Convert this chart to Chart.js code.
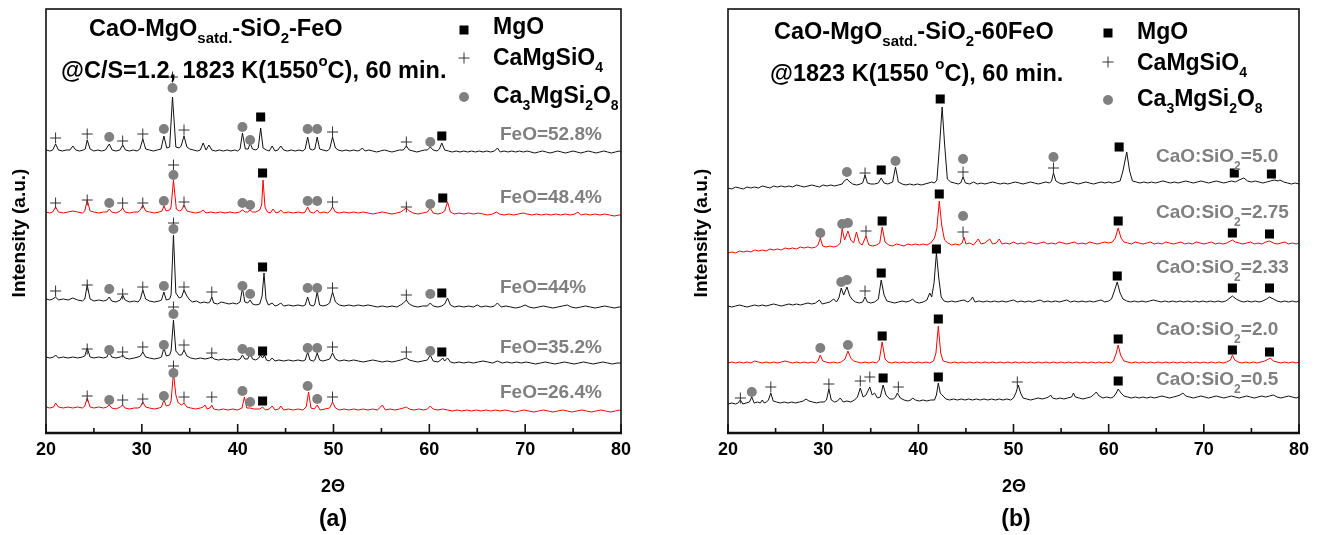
<!DOCTYPE html>
<html>
<head>
<meta charset="utf-8">
<script src="https://cdn.jsdelivr.net/npm/chart.js@4.4.0/dist/chart.umd.min.js"></script>
<style>
  html, body { margin: 0; padding: 0; background: #fff; }
  #wrap { position: relative; width: 1318px; height: 535px; }
  .pane { position: absolute; top: 0; }
</style>
</head>
<body>
<div id="wrap">
  <canvas id="chartA" class="pane" style="left:0" width="659" height="535"></canvas>
  <canvas id="chartB" class="pane" style="left:659px" width="659" height="535"></canvas>
</div>
<script>
// x ticks (2 theta) and minor ticks
const xTicks = [20, 30, 40, 50, 60, 70, 80];
const xMinor = [25, 35, 45, 55, 65, 75];

// panel (a): traces as flat [2theta, intensity, ...] lists, offset stacked
const labelsA = ['FeO=52.8%', 'FeO=48.4%', 'FeO=44%', 'FeO=35.2%', 'FeO=26.4%'];
const feo528 = [20,283, 20.4,282, 20.7,283, 21.0,289, 21.3,283, 21.7,282, 22.1,283, 22.5,283, 22.8,287, 23.1,283, 23.5,282, 23.9,283, 24.1,284, 24.3,293, 24.6,284, 25.0,282, 25.4,283, 25.8,282, 26.2,283, 26.6,289, 26.9,283, 27.3,282, 27.7,283, 28.0,288, 28.3,283, 28.7,282, 29.1,283, 29.5,282, 29.8,284, 30.1,294, 30.4,284, 30.8,283, 31.2,282, 31.6,283, 32.0,284, 32.3,297, 32.6,285, 32.9,286, 33.2,336, 33.55,286, 33.9,285, 34.1,287, 34.4,297, 34.7,286, 35.0,284, 35.4,283, 35.8,282, 36.1,283, 36.4,290, 36.7,283, 37.0,288, 37.3,283, 37.7,282, 38.1,283, 38.5,282, 38.9,283, 39.3,282, 39.7,283, 40.0,282, 40.25,284, 40.5,300, 40.8,284, 41.1,284, 41.3,290, 41.55,284, 41.9,283, 42.15,285, 42.4,305, 42.65,285, 43.0,283, 43.3,282, 43.6,287, 43.9,282, 44.2,283, 44.5,287, 44.8,283, 45.2,282, 45.6,283, 46.0,282, 46.4,283, 46.8,282, 47.05,284, 47.3,296, 47.55,284, 47.8,283, 48.05,284, 48.3,296, 48.55,284, 48.9,283, 49.3,282, 49.6,284, 49.9,296, 50.2,285, 50.5,283, 50.9,282, 51.3,283, 51.7,282, 52.1,283, 52.5,282, 52.8,283, 53.0,285, 53.3,282, 53.7,283, 54.1,282, 54.5,281, 54.9,282, 55.3,283, 55.7,282, 56.1,281, 56.5,282, 56.9,283, 57.3,283, 57.6,287, 57.9,283, 58.3,282, 58.7,281, 59.1,282, 59.5,283, 59.8,283, 60.1,286, 60.4,283, 60.8,282, 61.05,284, 61.3,290, 61.6,283, 62.0,282, 62.4,281, 62.8,282, 63.2,281, 63.6,282, 64.0,281, 64.4,282, 64.8,281, 65.2,282, 65.6,281, 66.0,282, 66.4,281, 66.8,282, 67.1,285, 67.4,281, 67.8,282, 68.2,281, 68.6,282, 69.0,281, 69.4,282, 69.8,281, 70.2,282, 70.6,281, 71.0,280, 71.4,281, 71.8,282, 72.2,281, 72.6,280, 73.0,281, 73.4,282, 73.8,281, 74.2,280, 74.6,281, 75.0,282, 75.4,281, 75.8,280, 76.2,281, 76.6,282, 77.0,281, 77.4,280, 77.8,281, 78.2,282, 78.6,281, 79.0,280, 79.4,281, 79.8,282, 80,281];
const feo484 = [20,221, 20.4,220, 20.7,221, 21.0,226, 21.3,221, 21.8,220, 22.3,221, 22.8,222, 23.3,221, 23.8,220, 24.05,222, 24.3,233, 24.6,222, 25.0,221, 25.5,220, 26.0,221, 26.35,221, 26.6,224, 26.85,221, 27.3,220, 27.75,222, 28.0,225, 28.25,221, 28.7,220, 29.2,221, 29.6,221, 29.85,223, 30.1,228, 30.4,222, 30.8,221, 31.3,220, 31.8,221, 32.1,222, 32.3,227, 32.55,222, 32.9,223, 33.05,226, 33.3,253, 33.6,224, 33.9,222, 34.15,223, 34.4,228, 34.7,222, 35.1,221, 35.6,220, 36.1,221, 36.4,223, 36.7,220, 37.2,221, 37.7,220, 38.2,221, 38.7,220, 39.2,221, 39.7,220, 40.2,221, 40.5,223, 40.8,221, 41.05,221, 41.3,223, 41.55,221, 41.9,221, 42.3,223, 42.5,228, 42.65,253, 42.85,226, 43.1,221, 43.4,220, 43.7,224, 44.0,220, 44.3,221, 44.5,223, 44.8,220, 45.3,221, 45.8,220, 46.3,221, 46.8,220, 47.05,221, 47.3,226, 47.55,221, 47.9,220, 48.1,221, 48.3,223, 48.55,220, 49.0,221, 49.4,220, 49.65,222, 49.9,226, 50.2,221, 50.6,220, 51.1,221, 51.6,220, 52.1,221, 52.6,220, 53.1,221, 53.6,220, 54.1,219, 54.6,220, 55.1,221, 55.6,220, 56.1,219, 56.6,220, 57.0,221, 57.3,223, 57.6,225, 57.9,222, 58.3,220, 58.8,219, 59.3,220, 59.8,221, 60.1,225, 60.4,220, 60.9,219, 61.3,220, 61.6,222, 61.9,231, 62.2,221, 62.6,219, 63.1,220, 63.6,219, 64.1,220, 64.6,219, 65.1,220, 65.6,219, 66.1,218, 66.6,219, 67.0,221, 67.3,219, 67.8,218, 68.3,219, 68.8,218, 69.3,219, 69.8,220, 70.2,219, 70.7,218, 71.2,219, 71.7,218, 72.2,219, 72.7,218, 73.2,219, 73.7,218, 74.2,219, 74.7,218, 75.2,219, 75.5,221, 75.8,218, 76.3,219, 76.8,218, 77.3,219, 77.8,218, 78.3,219, 78.8,218, 79.3,217, 79.8,218, 80,218];
const feo44 = [20,134, 20.4,133, 20.7,134, 21.0,136, 21.3,133, 21.8,134, 22.3,133, 22.8,135, 23.3,133, 23.8,132, 24.05,134, 24.3,148, 24.6,134, 25.0,132, 25.5,133, 26.0,132, 26.35,133, 26.6,136, 26.85,132, 27.3,131, 27.75,133, 28.0,138, 28.25,133, 28.7,131, 29.2,132, 29.6,131, 29.85,134, 30.1,143, 30.4,134, 30.8,132, 31.3,131, 31.8,132, 32.05,133, 32.3,141, 32.55,133, 32.9,134, 33.05,138, 33.3,198, 33.55,140, 33.9,135, 34.15,136, 34.4,143, 34.7,137, 35.0,133, 35.3,131, 35.7,132, 36.1,130, 36.5,131, 36.9,130, 37.1,131, 37.3,136, 37.5,130, 37.9,129, 38.3,131, 38.7,130, 39.1,129, 39.5,130, 39.9,129, 40.25,131, 40.5,145, 40.75,131, 41.05,130, 41.3,133, 41.55,129, 41.9,128, 42.3,129, 42.55,137, 42.75,160, 42.95,134, 43.2,128, 43.6,130, 43.9,127, 44.2,128, 44.5,130, 44.8,127, 45.3,128, 45.8,127, 46.3,128, 46.8,127, 47.05,128, 47.3,136, 47.55,128, 47.9,127, 48.05,129, 48.3,141, 48.55,128, 48.9,127, 49.3,128, 49.6,130, 49.9,141, 50.2,131, 50.6,128, 51.1,127, 51.6,128, 52.1,127, 52.6,128, 53.1,127, 53.6,128, 54.1,127, 54.6,126, 55.1,127, 55.6,126, 56.1,127, 56.6,126, 57.0,128, 57.3,130, 57.6,133, 57.9,129, 58.3,127, 58.8,126, 59.3,127, 59.8,127, 60.1,130, 60.4,127, 60.9,126, 61.3,127, 61.6,129, 61.9,135, 62.2,128, 62.6,126, 63.1,127, 63.6,126, 64.1,127, 64.6,126, 65.0,128, 65.4,126, 65.9,127, 66.4,126, 66.8,127, 67.1,130, 67.5,126, 68.0,127, 68.5,126, 69.0,125, 69.5,126, 70.0,128, 70.4,126, 70.9,125, 71.4,126, 71.9,127, 72.4,126, 72.9,125, 73.4,126, 73.9,127, 74.4,128, 74.8,126, 75.3,125, 75.8,126, 76.3,127, 76.8,126, 77.3,125, 77.8,126, 78.3,127, 78.8,126, 79.3,125, 79.8,126, 80,126];
const feo352 = [20,76, 20.4,75, 20.8,76, 21.0,78, 21.3,75, 21.8,76, 22.3,75, 22.8,76, 23.3,75, 23.8,76, 24.05,77, 24.3,85, 24.6,76, 25.0,75, 25.5,76, 26.0,75, 26.35,76, 26.6,81, 26.85,76, 27.3,75, 27.75,76, 28.0,78, 28.25,75, 28.7,74, 29.2,75, 29.6,76, 29.85,77, 30.1,81, 30.4,76, 30.8,75, 31.3,74, 31.8,75, 32.05,76, 32.3,85, 32.55,77, 32.9,78, 33.05,82, 33.3,113, 33.55,82, 33.9,78, 34.15,78, 34.4,83, 34.7,77, 35.1,75, 35.6,74, 36.1,75, 36.6,74, 37.05,75, 37.3,76, 37.55,74, 38.0,73, 38.5,74, 39.0,73, 39.5,74, 40.0,73, 40.25,74, 40.5,78, 40.75,74, 41.05,74, 41.3,80, 41.55,74, 41.9,73, 42.2,75, 42.4,78, 42.6,75, 42.8,78, 43.0,73, 43.3,72, 43.6,75, 43.9,72, 44.3,73, 44.8,72, 45.3,73, 45.8,72, 46.3,73, 46.8,72, 47.05,73, 47.3,81, 47.55,73, 47.9,72, 48.05,73, 48.3,80, 48.55,73, 48.9,72, 49.3,73, 49.6,74, 49.9,80, 50.2,74, 50.6,72, 51.1,73, 51.6,72, 52.1,73, 52.6,72, 53.1,71, 53.6,72, 54.1,73, 54.6,72, 55.1,71, 55.6,72, 56.1,71, 56.6,72, 57.0,73, 57.3,74, 57.6,75, 57.9,73, 58.3,72, 58.8,71, 59.3,72, 59.8,73, 60.1,78, 60.4,72, 60.9,71, 61.2,73, 61.4,75, 61.6,72, 61.9,75, 62.2,71, 62.6,70, 63.1,71, 63.6,70, 64.1,71, 64.6,70, 65.1,71, 65.6,72, 66.1,71, 66.6,70, 67.1,72, 67.6,70, 68.1,71, 68.6,70, 69.1,71, 69.6,70, 70.1,71, 70.6,70, 71.1,69, 71.6,70, 72.1,71, 72.6,70, 73.1,69, 73.6,70, 74.1,71, 74.6,70, 75.1,69, 75.6,70, 76.1,71, 76.6,70, 77.1,69, 77.6,70, 78.1,71, 78.6,70, 79.1,69, 79.6,70, 80,70];
const feo264 = [20,26, 20.4,25, 20.8,26, 21.0,30, 21.3,26, 21.8,25, 22.3,26, 22.8,25, 23.3,26, 23.8,25, 24.05,27, 24.3,35, 24.6,26, 25.0,25, 25.5,26, 26.0,25, 26.35,26, 26.6,28, 26.85,25, 27.3,24, 27.75,26, 28.0,28, 28.25,25, 28.7,24, 29.2,25, 29.6,25, 29.85,26, 30.1,31, 30.4,26, 30.8,25, 31.3,24, 31.8,25, 32.05,26, 32.3,33, 32.55,27, 32.9,28, 33.05,32, 33.3,60, 33.55,38, 33.8,30, 34.15,28, 34.4,30, 34.7,26, 35.1,25, 35.6,24, 36.1,25, 36.4,26, 36.6,28, 36.8,24, 37.1,25, 37.3,28, 37.5,24, 38.0,23, 38.5,24, 39.0,23, 39.5,24, 40.0,23, 40.45,25, 40.7,36, 40.95,25, 41.3,25, 41.7,24, 42.3,24, 42.6,26, 42.9,23, 43.3,24, 43.6,27, 43.9,23, 44.3,24, 44.5,27, 44.8,23, 45.3,24, 45.8,23, 46.3,24, 46.8,23, 47.15,26, 47.4,41, 47.65,25, 48.0,24, 48.3,28, 48.6,23, 49.1,24, 49.6,25, 49.9,31, 50.2,25, 50.6,23, 51.1,24, 51.6,23, 52.1,24, 52.6,23, 53.1,24, 53.6,23, 54.1,24, 54.6,23, 55.1,28, 55.4,23, 55.9,24, 56.4,23, 56.9,24, 57.3,25, 57.6,26, 57.9,24, 58.4,23, 58.9,24, 59.4,23, 59.8,24, 60.1,27, 60.4,24, 60.9,23, 61.4,24, 61.9,23, 62.4,22, 62.9,23, 63.4,22, 63.9,23, 64.4,22, 64.9,23, 65.4,22, 65.9,23, 66.4,22, 66.9,23, 67.4,22, 67.9,23, 68.4,22, 68.9,21, 69.4,22, 69.9,23, 70.4,22, 70.9,21, 71.4,22, 71.9,23, 72.4,22, 72.9,21, 73.4,22, 73.9,23, 74.4,22, 74.9,21, 75.4,22, 75.9,23, 76.4,22, 76.9,21, 77.4,22, 77.9,23, 78.4,22, 78.9,21, 79.4,22, 79.9,23, 80,22];

// panel (a) phase markers [2theta, y]
const mgoA = [42.4,316, 61.3,297, 42.6,260, 61.4,235, 42.6,166, 61.3,140, 42.6,82, 61.3,81, 42.6,32];
const cmsA = [21,295, 24.3,299, 28,292, 30.1,299, 33.2,356, 34.4,303, 49.9,301, 57.6,291,
  21,230, 24.3,233, 28,230, 30.1,230, 33.3,268, 34.4,231, 49.9,231, 57.6,226,
  21,142, 24.3,148, 28,139, 30.1,146, 33.3,210, 34.4,146, 37.3,141, 49.9,145, 57.6,138,
  24.3,84, 28,81, 30.1,86, 33.3,126, 34.4,88, 37.3,80, 49.9,86, 57.6,81,
  24.3,37, 28,33, 30.1,34, 33.3,67, 34.4,36, 37.3,36, 49.9,36];
const c3msA = [26.6,296, 32.3,304, 33.2,345, 40.5,306, 41.3,293, 47.3,304, 48.3,304, 60.1,291,
  26.6,230, 32.3,232, 33.3,258, 40.5,230, 41.3,228, 47.3,232, 48.3,232, 60.1,229,
  26.6,144, 32.3,147, 33.3,204, 40.5,147, 41.3,139, 47.3,145, 48.3,145, 60.1,139,
  26.6,83, 32.3,88, 33.3,119, 40.5,84, 41.3,81, 47.3,85, 48.3,85, 60.1,82,
  26.6,33, 32.3,37, 33.3,60, 40.5,42, 41.3,31, 47.3,47, 48.3,34];

// panel (b): CaO:SiO2 ratio traces
const labelsB = ['5.0', '2.75', '2.33', '2.0', '0.5'];
const cs50 = [20,245, 20.4,244, 20.8,246, 21.2,245, 21.6,244, 22.0,246, 22.4,245, 22.8,246, 23.2,245, 23.6,247, 24.0,246, 24.4,245, 24.8,247, 25.2,246, 25.6,247, 26.0,246, 26.4,247, 26.8,246, 27.2,248, 27.6,247, 28.0,246, 28.4,247, 28.8,248, 29.2,247, 29.6,246, 30.0,248, 30.4,247, 30.8,248, 31.2,247, 31.6,248, 32.0,249, 32.2,252, 32.5,254, 32.8,251, 33.1,249, 33.5,248, 33.9,249, 34.15,250, 34.4,258, 34.65,250, 35.0,249, 35.4,249, 35.8,250, 36.1,255, 36.4,250, 36.8,249, 37.3,251, 37.6,266, 37.9,251, 38.3,249, 38.7,248, 39.1,249, 39.5,248, 39.9,249, 40.3,248, 40.7,249, 41.1,250, 41.4,251, 41.7,250, 41.95,253, 42.25,290, 42.5,326, 42.75,290, 43.05,254, 43.4,251, 43.8,250, 44.2,249, 44.45,250, 44.7,256, 44.95,250, 45.4,249, 45.8,251, 46.2,249, 46.6,250, 47.0,249, 47.4,250, 47.8,251, 48.2,250, 48.6,249, 49.0,250, 49.4,249, 49.8,250, 50.2,251, 50.6,250, 51.0,249, 51.4,250, 51.8,251, 52.2,250, 52.6,249, 53.0,250, 53.4,251, 53.8,250, 54.0,252, 54.2,260, 54.45,252, 54.8,250, 55.2,249, 55.6,250, 56.0,251, 56.4,250, 56.8,249, 57.2,250, 57.6,251, 58.0,250, 58.4,249, 58.8,250, 59.2,251, 59.6,250, 60.0,251, 60.4,250, 60.8,251, 61.2,252, 61.5,262, 61.9,281, 62.2,262, 62.5,252, 62.9,251, 63.3,250, 63.7,251, 64.1,250, 64.5,251, 64.9,250, 65.3,251, 65.7,252, 66.1,251, 66.5,250, 66.9,251, 67.3,250, 67.7,251, 68.1,252, 68.5,251, 68.9,250, 69.3,251, 69.7,252, 70.1,251, 70.5,250, 70.9,251, 71.3,252, 71.7,251, 72.1,250, 72.5,251, 72.9,252, 73.3,251, 73.7,253, 74.2,255, 74.6,252, 75.0,251, 75.4,252, 75.8,251, 76.2,250, 76.6,251, 77.0,252, 77.4,253, 77.8,252, 78.0,253, 78.4,251, 78.8,250, 79.2,249, 79.6,250, 80,249];
const cs275 = [20,180, 20.4,181, 20.8,180, 21.2,182, 21.6,181, 22.0,182, 22.4,181, 22.8,183, 23.2,182, 23.6,183, 24.0,182, 24.4,184, 24.8,183, 25.2,184, 25.6,183, 26.0,185, 26.4,184, 26.8,185, 27.2,184, 27.6,186, 28.0,185, 28.4,186, 28.8,185, 29.2,186, 29.45,188, 29.7,195, 29.95,187, 30.3,186, 30.7,187, 31.1,186, 31.5,187, 31.8,190, 32.0,204, 32.25,193, 32.6,202, 32.9,193, 33.2,190, 33.5,201, 33.8,190, 34.1,188, 34.5,197, 34.8,188, 35.2,187, 35.6,188, 35.95,190, 36.2,206, 36.5,191, 36.9,188, 37.3,187, 37.7,189, 38.1,188, 38.5,187, 38.9,189, 39.3,188, 39.7,189, 40.1,188, 40.5,189, 40.9,188, 41.3,190, 41.7,195, 41.95,205, 42.2,232, 42.45,208, 42.75,193, 43.1,190, 43.5,188, 43.9,189, 44.3,188, 44.6,190, 44.8,196, 45.0,189, 45.4,190, 45.8,188, 46.3,194, 46.6,189, 47.0,190, 47.5,194, 47.8,189, 48.2,190, 48.5,194, 48.8,189, 49.2,190, 49.6,189, 50.0,191, 50.4,189, 50.8,190, 51.2,189, 51.6,191, 52.0,190, 52.4,189, 52.8,190, 53.2,191, 53.6,189, 54.0,190, 54.4,189, 54.8,191, 55.2,190, 55.6,189, 56.0,190, 56.4,191, 56.8,189, 57.2,190, 57.6,189, 58.0,191, 58.4,190, 58.8,189, 59.2,190, 59.6,191, 60.0,190, 60.4,191, 60.7,195, 61.0,205, 61.3,195, 61.6,191, 62.0,190, 62.4,189, 62.8,191, 63.2,190, 63.6,189, 64.0,190, 64.4,191, 64.8,189, 65.2,190, 65.6,189, 66.0,191, 66.4,190, 66.8,189, 67.2,190, 67.6,191, 68.0,189, 68.4,190, 68.8,189, 69.2,191, 69.6,190, 70.0,189, 70.4,190, 70.8,191, 71.2,189, 71.6,190, 72.0,189, 72.4,190, 72.8,192, 73.0,193, 73.3,191, 73.7,190, 74.1,189, 74.5,190, 74.9,191, 75.3,189, 75.7,190, 76.1,189, 76.5,191, 76.9,192, 77.3,190, 77.7,189, 78.1,190, 78.5,191, 78.9,189, 79.3,190, 79.7,189, 80,190];
const cs233 = [20,127, 20.4,126, 20.8,127, 21.2,128, 21.6,127, 22.0,126, 22.4,127, 22.8,128, 23.2,127, 23.6,128, 24.0,127, 24.4,128, 24.8,129, 25.2,128, 25.6,127, 26.0,128, 26.4,129, 26.8,128, 27.2,129, 27.6,128, 28.0,129, 28.4,130, 28.8,129, 29.2,130, 29.6,133, 29.9,129, 30.3,130, 30.7,131, 31.1,134, 31.4,131, 31.65,135, 31.9,145, 32.15,138, 32.5,146, 32.8,137, 33.1,133, 33.4,131, 33.8,130, 34.15,131, 34.4,136, 34.65,131, 35.0,130, 35.4,131, 35.8,134, 36.1,153, 36.4,138, 36.7,132, 37.1,131, 37.5,130, 37.9,131, 38.3,132, 38.7,131, 39.1,132, 39.4,134, 39.7,131, 40.1,130, 40.5,131, 40.9,133, 41.2,140, 41.4,136, 41.65,150, 41.9,180, 42.15,155, 42.4,136, 42.7,132, 43.1,131, 43.5,132, 43.9,131, 44.3,132, 44.8,133, 45.2,131, 45.5,133, 45.7,136, 45.95,131, 46.4,132, 46.8,131, 47.2,132, 47.6,131, 48.0,132, 48.4,131, 48.8,132, 49.2,131, 49.6,132, 50.0,133, 50.4,131, 50.8,132, 51.2,131, 51.6,132, 52.0,131, 52.4,132, 52.8,133, 53.2,131, 53.6,132, 54.0,131, 54.4,132, 54.8,131, 55.2,132, 55.6,133, 56.0,131, 56.4,132, 56.8,131, 57.2,132, 57.6,131, 58.0,132, 58.4,131, 58.8,132, 59.2,133, 59.6,131, 60.0,132, 60.3,134, 60.6,142, 60.9,151, 61.2,140, 61.5,134, 61.9,132, 62.3,131, 62.7,132, 63.1,131, 63.5,132, 63.9,131, 64.3,132, 64.7,133, 65.1,132, 65.5,131, 65.9,132, 66.3,131, 66.7,132, 67.1,131, 67.5,132, 67.9,131, 68.3,132, 68.7,131, 69.1,132, 69.5,131, 69.9,132, 70.3,131, 70.7,132, 71.1,131, 71.5,132, 71.9,131, 72.3,132, 72.6,134, 73.0,137, 73.4,134, 73.8,132, 74.2,131, 74.6,132, 75.0,131, 75.4,132, 75.8,131, 76.2,132, 76.6,134, 76.9,136, 77.3,134, 77.7,132, 78.1,131, 78.5,132, 78.9,131, 79.3,132, 79.7,131, 80,132];
const cs20 = [20,70, 20.4,71, 20.8,70, 21.2,71, 21.6,70, 22.0,71, 22.4,70, 22.8,72, 23.2,71, 23.6,70, 24.0,71, 24.4,70, 24.8,71, 25.2,70, 25.6,71, 26.0,72, 26.4,71, 26.8,70, 27.2,71, 27.6,70, 28.0,71, 28.4,70, 28.8,71, 29.2,70, 29.45,72, 29.7,78, 29.95,72, 30.3,71, 30.7,70, 31.1,71, 31.5,70, 31.9,71, 32.3,74, 32.6,82, 32.9,75, 33.2,72, 33.6,71, 34.0,70, 34.4,71, 34.8,70, 35.2,71, 35.6,70, 35.9,73, 36.2,91, 36.5,74, 36.8,71, 37.2,70, 37.6,71, 38.0,70, 38.4,71, 38.8,70, 39.2,71, 39.6,70, 40.0,71, 40.4,70, 40.8,71, 41.2,70, 41.6,72, 41.85,80, 42.1,107, 42.35,80, 42.6,72, 43.0,71, 43.4,70, 43.8,71, 44.2,70, 44.6,71, 45.0,70, 45.4,71, 45.8,70, 46.2,71, 46.6,70, 47.0,71, 47.4,70, 47.8,71, 48.2,70, 48.6,71, 49.0,70, 49.4,71, 49.8,70, 50.2,71, 50.6,70, 51.0,71, 51.4,70, 51.8,71, 52.2,70, 52.6,71, 53.0,70, 53.4,71, 53.8,70, 54.2,71, 54.6,70, 55.0,71, 55.4,70, 55.8,71, 56.2,70, 56.6,71, 57.0,70, 57.4,71, 57.8,70, 58.2,71, 58.6,70, 59.0,71, 59.4,70, 59.8,71, 60.2,70, 60.5,72, 60.8,80, 61.0,88, 61.25,78, 61.6,72, 62.0,71, 62.4,70, 62.8,71, 63.2,70, 63.6,71, 64.0,70, 64.4,71, 64.8,70, 65.2,71, 65.6,70, 66.0,71, 66.4,70, 66.8,71, 67.2,70, 67.6,71, 68.0,70, 68.4,71, 68.8,70, 69.2,71, 69.6,70, 70.0,71, 70.4,70, 70.8,71, 71.2,70, 71.6,71, 72.0,70, 72.4,71, 72.8,73, 73.0,78, 73.25,73, 73.6,71, 74.0,70, 74.4,71, 74.8,70, 75.2,71, 75.6,70, 76.0,71, 76.4,72, 76.8,74, 77.0,75, 77.3,72, 77.7,71, 78.1,70, 78.5,71, 78.9,70, 79.3,71, 79.7,70, 80,71];
const cs05 = [20,29, 20.4,30, 20.8,29, 21.05,30, 21.3,33, 21.55,29, 21.9,30, 22.25,31, 22.5,36, 22.75,30, 23.1,31, 23.4,30, 23.6,33, 23.8,30, 24.05,31, 24.25,33, 24.5,40, 24.75,32, 25.1,31, 25.5,30, 25.9,31, 26.3,30, 26.7,31, 27.1,30, 27.5,31, 27.9,32, 28.2,34, 28.5,32, 28.9,31, 29.3,30, 29.7,31, 30.1,31, 30.35,33, 30.6,44, 30.85,33, 31.2,31, 31.5,32, 31.8,35, 32.1,31, 32.5,32, 32.9,31, 33.3,33, 33.6,36, 33.9,45, 34.2,36, 34.5,38, 34.9,46, 35.15,38, 35.4,40, 35.7,35, 36.0,36, 36.3,48, 36.6,38, 37.0,34, 37.4,34, 37.6,36, 37.8,40, 38.1,35, 38.5,33, 38.9,32, 39.2,33, 39.4,35, 39.7,33, 40.1,32, 40.5,33, 40.9,32, 41.3,33, 41.7,33, 41.9,38, 42.1,50, 42.3,40, 42.6,37, 42.9,34, 43.3,33, 43.7,34, 44.1,33, 44.5,34, 44.9,33, 45.3,34, 45.7,33, 46.1,34, 46.5,33, 46.9,34, 47.3,33, 47.7,34, 48.1,33, 48.5,34, 48.9,33, 49.3,34, 49.7,33, 50.0,35, 50.25,40, 50.5,48, 50.75,40, 51.0,35, 51.4,34, 51.8,33, 52.2,34, 52.6,35, 53.0,34, 53.4,35, 53.7,36, 53.9,38, 54.1,35, 54.5,34, 54.9,35, 55.3,34, 55.7,35, 56.1,36, 56.3,40, 56.5,36, 56.9,35, 57.3,34, 57.7,35, 58.1,36, 58.4,38, 58.7,41, 59.0,37, 59.4,35, 59.8,36, 60.2,35, 60.5,36, 60.8,40, 61.0,44, 61.3,40, 61.6,37, 62.0,36, 62.4,35, 62.8,36, 63.2,35, 63.6,36, 64.0,35, 64.4,36, 64.8,35, 65.2,36, 65.6,37, 66.0,36, 66.4,35, 66.8,36, 67.2,37, 67.5,38, 67.8,40, 68.1,37, 68.5,36, 68.9,35, 69.3,36, 69.7,37, 70.1,36, 70.5,35, 70.9,36, 71.3,37, 71.7,36, 72.1,35, 72.5,36, 72.9,37, 73.3,36, 73.7,35, 74.1,36, 74.5,37, 74.9,36, 75.3,35, 75.7,36, 76.1,37, 76.5,36, 76.9,37, 77.3,38, 77.7,36, 78.1,35, 78.5,36, 78.9,37, 79.3,36, 79.7,35, 80,36];

// panel (b) phase markers
const mgoB = [36.1,263, 42.3,334, 61.1,286, 73.2,260, 77.1,259,
  36.2,212, 42.2,239, 61.0,212, 73.0,200, 76.9,199,
  36.1,160, 41.9,184, 60.9,157, 73.0,145, 76.9,145,
  36.2,97, 42.1,114, 61.0,94, 73.0,83, 76.9,81,
  36.3,55, 42.1,56, 61.0,52];
const cmsB = [34.4,260, 44.7,261, 54.2,265, 34.5,202, 44.7,201, 34.4,142,
  21.3,35, 24.5,46, 30.6,49, 33.9,52, 34.9,56, 37.9,46, 50.4,51];
const c3msB = [32.5,261, 37.6,272, 44.7,274, 54.2,276,
  29.7,200, 32.0,209, 32.6,210, 44.7,217,
  31.9,151, 32.5,153,
  29.7,85, 32.6,88,
  22.5,41];

const FONT = '"Liberation Sans", Arial, Helvetica, sans-serif';
const GRAY = '#808080';

function pts(flat) {
  const out = [];
  for (let i = 0; i < flat.length; i += 2) out.push({ x: flat[i], y: flat[i + 1] });
  return out;
}

// draw text made of normal / subscript (1) / superscript (2) parts
function rich(ctx, x, y, parts, size, color, align, subDy) {
  const small = Math.round(size * 0.62);
  const dyS = subDy != null ? subDy : size * 0.36;
  ctx.save();
  ctx.fillStyle = color;
  ctx.textBaseline = 'middle';
  ctx.textAlign = 'left';
  let w = 0;
  parts.forEach(p => {
    ctx.font = 'bold ' + (p[1] ? small : size) + 'px ' + FONT;
    w += ctx.measureText(p[0]).width;
  });
  let cx = align === 'center' ? x - w / 2 : x;
  parts.forEach(p => {
    ctx.font = 'bold ' + (p[1] ? small : size) + 'px ' + FONT;
    const dy = p[1] === 1 ? dyS : p[1] === 2 ? -size * 0.42 : 0;
    ctx.fillText(p[0], cx, y + dy);
    cx += ctx.measureText(p[0]).width;
  });
  ctx.restore();
}

function legendSymbol(ctx, kind, x, y) {
  ctx.save();
  if (kind === 'rect') {
    ctx.fillStyle = '#000';
    ctx.fillRect(x - 4.5, y - 4.5, 9, 9);
  } else if (kind === 'cross') {
    ctx.strokeStyle = '#333'; ctx.lineWidth = 1;
    ctx.beginPath();
    ctx.moveTo(x - 5.5, y); ctx.lineTo(x + 5.5, y);
    ctx.moveTo(x, y - 5.5); ctx.lineTo(x, y + 5.5);
    ctx.stroke();
  } else {
    ctx.fillStyle = GRAY;
    ctx.beginPath(); ctx.arc(x, y, 5, 0, Math.PI * 2); ctx.fill();
  }
  ctx.restore();
}

const framePlugin = {
  id: 'frame',
  afterDraw(chart, args, o) {
    const { ctx, chartArea: a } = chart;
    const xs = chart.scales.x;
    const ox = o.ox;
    ctx.save();
    ctx.strokeStyle = '#111';
    ctx.lineWidth = 1.6;
    ctx.strokeRect(a.left, a.top, a.right - a.left, a.bottom - a.top);
    ctx.lineWidth = 2.4;
    ctx.beginPath(); ctx.moveTo(a.left - 1, a.bottom); ctx.lineTo(a.right + 1, a.bottom); ctx.stroke();
    ctx.lineWidth = 1.6;
    xTicks.forEach(v => {
      const p = xs.getPixelForValue(v);
      ctx.beginPath(); ctx.moveTo(p, a.bottom); ctx.lineTo(p, a.bottom - 9); ctx.stroke();
    });
    xMinor.forEach(v => {
      const p = xs.getPixelForValue(v);
      ctx.beginPath(); ctx.moveTo(p, a.bottom); ctx.lineTo(p, a.bottom - 5); ctx.stroke();
    });
    ctx.restore();

    // titles
    o.titles.forEach(t => rich(ctx, t.x - ox, t.y, t.parts, t.size, '#000', 'left'));
    // legend
    o.legend.forEach(l => {
      legendSymbol(ctx, l.kind, l.sx - ox, l.sy);
      rich(ctx, l.tx - ox, l.ty, l.parts, 23, '#000', 'left', 9);
    });
    // series labels
    o.labels.forEach(l => rich(ctx, l.x - ox, l.y, l.parts, 19, GRAY, 'left', 10));
    // axis titles
    ctx.save();
    ctx.translate(o.yTitle.x - ox, o.yTitle.y);
    ctx.rotate(-Math.PI / 2);
    rich(ctx, 0, 0, [['Intensity (a.u.)', 0]], 19, '#000', 'center');
    ctx.restore();
    rich(ctx, o.xTitle.x - ox, o.xTitle.y, [['2\u0398', 0]], 18, '#000', 'center');
    rich(ctx, o.tag.x - ox, o.tag.y, [[o.tag.text, 0]], 23, '#000', 'center');
  }
};

function makePanel(id, traces, colors, marks, pad, deco) {
  const datasets = [
    { data: pts(marks[0]), pointStyle: 'rect', pointRadius: 6.4, backgroundColor: '#000', borderWidth: 0 },
    { data: pts(marks[1]), pointStyle: 'circle', pointRadius: 5, backgroundColor: GRAY, borderWidth: 0 },
    { data: pts(marks[2]), pointStyle: 'cross', pointRadius: 5.5, borderColor: '#333', borderWidth: 1 }
  ];
  traces.forEach((t, i) => {
    datasets.push({
      data: pts(t), showLine: true, borderColor: colors[i], borderWidth: 1,
      pointRadius: 0, tension: 0
    });
  });
  return new Chart(document.getElementById(id), {
    type: 'scatter',
    data: { datasets: datasets },
    options: {
      responsive: false,
      animation: false,
      layout: { padding: pad },
      plugins: { legend: { display: false }, tooltip: { enabled: false }, frame: deco },
      scales: {
        x: {
          type: 'linear', min: 20, max: 80,
          afterBuildTicks: s => { s.ticks = xTicks.map(v => ({ value: v })); },
          afterFit: s => { s.height = 102; },
          ticks: { color: '#000', padding: 6, maxRotation: 0, font: { family: FONT, size: 18, weight: 'bold' } },
          grid: { display: false, drawTicks: false },
          border: { display: false }
        },
        y: { min: 0, max: 424, display: false }
      }
    },
    plugins: [framePlugin]
  });
}

const legendParts = [
  [['MgO', 0]],
  [['CaMgSiO', 0], ['4', 1]],
  [['Ca', 0], ['3', 1], ['MgSi', 0], ['2', 1], ['O', 0], ['8', 1]]
];

makePanel('chartA', [feo528, feo484, feo44, feo352, feo264],
  ['#111', '#ff0000', '#111', '#111', '#ff0000'],
  [mgoA, c3msA, cmsA],
  { left: 46, right: 38, top: 9, bottom: 0 },
  {
    ox: 0,
    titles: [
      { x: 89, y: 30, size: 23.5, parts: [['CaO-MgO', 0], ['satd.', 1], ['-SiO', 0], ['2', 1], ['-FeO', 0]] },
      { x: 61, y: 72, size: 23.5, parts: [['@C/S=1.2, 1823 K(1550', 0], ['o', 2], ['C), 60 min.', 0]] }
    ],
    legend: [
      { kind: 'rect', sx: 464, sy: 30, tx: 493, ty: 28, parts: legendParts[0] },
      { kind: 'cross', sx: 464, sy: 58, tx: 493, ty: 59, parts: legendParts[1] },
      { kind: 'circle', sx: 464, sy: 97, tx: 493, ty: 97, parts: legendParts[2] }
    ],
    labels: [135, 198, 288, 348, 393].map((y, i) => ({ x: 500, y: y, parts: [[labelsA[i], 0]] })),
    yTitle: { x: 20, y: 233 },
    xTitle: { x: 333, y: 487 },
    tag: { x: 333, y: 520, text: '(a)' }
  });

makePanel('chartB', [cs50, cs275, cs233, cs20, cs05],
  ['#111', '#ff0000', '#111', '#ff0000', '#111'],
  [mgoB, c3msB, cmsB],
  { left: 69, right: 19, top: 9, bottom: 0 },
  {
    ox: 659,
    titles: [
      { x: 774, y: 33, size: 23.5, parts: [['CaO-MgO', 0], ['satd.', 1], ['-SiO', 0], ['2', 1], ['-60FeO', 0]] },
      { x: 770, y: 75, size: 23.5, parts: [['@1823 K(1550 ', 0], ['o', 2], ['C), 60 min.', 0]] }
    ],
    legend: [
      { kind: 'rect', sx: 1108, sy: 33, tx: 1137, ty: 33, parts: legendParts[0] },
      { kind: 'cross', sx: 1108, sy: 62, tx: 1137, ty: 64, parts: legendParts[1] },
      { kind: 'circle', sx: 1108, sy: 100, tx: 1137, ty: 100, parts: legendParts[2] }
    ],
    labels: [157, 213, 268, 330, 380].map((y, i) => ({ x: 1156, y: y, parts: [['CaO:SiO', 0], ['2', 1], ['=' + labelsB[i], 0]] })),
    yTitle: { x: 702, y: 233 },
    xTitle: { x: 1014, y: 487 },
    tag: { x: 1016, y: 520, text: '(b)' }
  });
</script>
</body>
</html>
